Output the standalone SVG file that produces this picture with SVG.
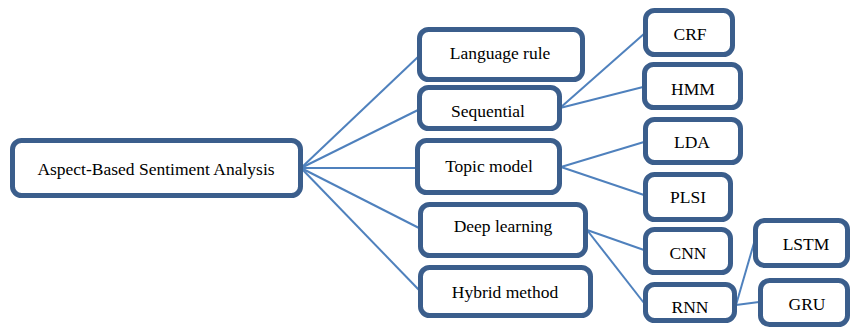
<svg xmlns="http://www.w3.org/2000/svg" width="853" height="329" viewBox="0 0 853 329">
  <style>
    .box { fill: #ffffff; stroke: #3b5e8c; stroke-width: 5; }
    .lbl { font-family: 'Liberation Serif', 'Times New Roman', Times, 'DejaVu Serif', serif; font-size: 17.5px; fill: #000000; text-anchor: middle; }
    .edge { stroke: #4f81bd; stroke-width: 2; fill: none; }
  </style>
  <rect width="853" height="329" fill="#ffffff"/>

  <g id="connectors">
    <line class="edge" x1="301" y1="168" x2="419" y2="56"/>
    <line class="edge" x1="301" y1="168" x2="418" y2="110"/>
    <line class="edge" x1="301" y1="168" x2="417" y2="168"/>
    <line class="edge" x1="301" y1="168" x2="419" y2="228"/>
    <line class="edge" x1="301" y1="168" x2="419" y2="290"/>
    <line class="edge" x1="560" y1="108" x2="645" y2="33"/>
    <line class="edge" x1="560" y1="108" x2="643" y2="87"/>
    <line class="edge" x1="561" y1="167" x2="644" y2="142"/>
    <line class="edge" x1="561" y1="167" x2="644" y2="195"/>
    <line class="edge" x1="587" y1="230" x2="644" y2="250"/>
    <line class="edge" x1="587" y1="230" x2="644" y2="303"/>
    <line class="edge" x1="736" y1="305" x2="754" y2="243"/>
    <line class="edge" x1="736" y1="305" x2="759" y2="302"/>
  </g>

  <g id="absa">
    <rect class="box" x="12.5" y="140.5" width="288" height="55" rx="9"/>
    <text class="lbl" x="156" y="175" font-family="Liberation Serif, serif">Aspect-Based Sentiment Analysis</text>
  </g>
  <g id="language-rule">
    <rect class="box" x="419.5" y="29.5" width="163" height="50" rx="9"/>
    <text class="lbl" x="500" y="59">Language rule</text>
  </g>
  <g id="sequential">
    <rect class="box" x="419.5" y="87.5" width="140" height="41" rx="9"/>
    <text class="lbl" x="488" y="117">Sequential</text>
  </g>
  <g id="topic-model">
    <rect class="box" x="417.5" y="140.5" width="142" height="52" rx="9"/>
    <text class="lbl" x="489" y="172">Topic model</text>
  </g>
  <g id="deep-learning">
    <rect class="box" x="420.5" y="204.5" width="165" height="51" rx="9"/>
    <text class="lbl" x="503" y="232">Deep learning</text>
  </g>
  <g id="hybrid-method">
    <rect class="box" x="420.5" y="267.5" width="170" height="48" rx="9"/>
    <text class="lbl" x="505" y="298">Hybrid method</text>
  </g>
  <g id="crf">
    <rect class="box" x="645.5" y="10.5" width="87" height="44" rx="9"/>
    <text class="lbl" x="690" y="40">CRF</text>
  </g>
  <g id="hmm">
    <rect class="box" x="644.5" y="64.5" width="96" height="43" rx="9"/>
    <text class="lbl" x="693" y="95">HMM</text>
  </g>
  <g id="lda">
    <rect class="box" x="645.5" y="119.5" width="95" height="43" rx="9"/>
    <text class="lbl" x="692" y="148">LDA</text>
  </g>
  <g id="plsi">
    <rect class="box" x="645.5" y="174.5" width="85" height="45" rx="9"/>
    <text class="lbl" x="688" y="203">PLSI</text>
  </g>
  <g id="cnn">
    <rect class="box" x="645.5" y="229.5" width="85" height="43" rx="9"/>
    <text class="lbl" x="688" y="259">CNN</text>
  </g>
  <g id="rnn">
    <rect class="box" x="645.5" y="284.5" width="89" height="36" rx="9"/>
    <text class="lbl" x="690" y="313">RNN</text>
  </g>
  <g id="lstm">
    <rect class="box" x="755.5" y="220.5" width="92" height="45" rx="9"/>
    <text class="lbl" x="806" y="250">LSTM</text>
  </g>
  <g id="gru">
    <rect class="box" x="760.5" y="280.5" width="87" height="44" rx="9"/>
    <text class="lbl" x="807" y="310">GRU</text>
  </g>
</svg>
